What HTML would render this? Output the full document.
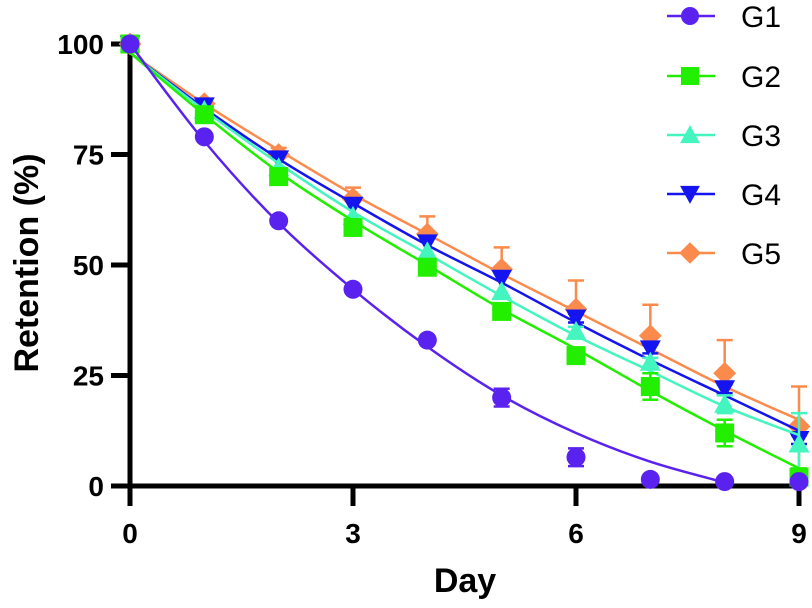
<!DOCTYPE html>
<html><head><meta charset="utf-8"><style>
body{margin:0;background:#fff}
svg{display:block;font-family:"Liberation Sans",Arial,sans-serif}
</style></head><body>
<svg id="chart" width="812" height="608" viewBox="0 0 812 608"></svg>
<script>
const days=[0,1,2,3,4,5,6,7,8,9];
const yTicks=[0,25,50,75,100];
const xTicks=[0,3,6,9];
const seriesNames=["G1","G2","G3","G4","G5"];
const g1=[100,79,60,44.5,33,20,6.5,1.5,1,1];
const g2=[100,84,70,58.5,49.5,39.5,29.5,22.5,12,2];
const g3=[100,85,72,61,53,44,35,28,18.5,9.5];
const g4=[100,86,74,63.5,55,47,38,31,22,10.5];
const g5=[100,86.5,75,65,57,49,40,34,25.5,13.5];
const g1Err=[0,0,0,0,0,2,2,0,0,0];
const g2Err=[0,0,0,0,0,0,0,3,3,2];
const g3Err=[0,0,0,0,0,0,1,1,2,7];
const g4Err=[0,0,0,0,0,0,1,1,1,1];
const g5Err=[0,0,1.5,2.5,4,5,6.5,7,7.5,9];
const g1Fit=[100,78,59.5,44.5,31.5,20.5,12,5.5,0.8,null];
const g2Fit=[98,84,71,60,50,40,31,21.5,12.5,4];
const g3Fit=[98,85,73,62,52.5,43,34,26,18,11.5];
const g4Fit=[98,85.5,74,64,54.5,46,37,28.5,20.5,12.5];
const g5Fit=[98,86.5,76,66,57,48,39.5,31,22.5,15];
const colors=["#5a22ee","#22ee00","#44f5c0","#1414ee","#fb8a4c"];
const allVals=[g1,g2,g3,g4,g5], allErr=[g1Err,g2Err,g3Err,g4Err,g5Err], allFit=[g1Fit,g2Fit,g3Fit,g4Fit,g5Fit];
const X=d=>130+d*(669/9), Y=v=>486-v*4.42;
const svg=document.getElementById('chart'), NS="http://www.w3.org/2000/svg";
function mk(tag,attrs,parent){const e=document.createElementNS(NS,tag);for(const k in attrs)e.setAttribute(k,attrs[k]);(parent||svg).appendChild(e);return e;}
let e=mk('line',{x1:130,y1:44,x2:130,y2:488,stroke:'#000','stroke-width':5});

e=mk('line',{x1:128,y1:486,x2:801,y2:486,stroke:'#000','stroke-width':5});

yTicks.forEach(t=>{
 let l=mk('line',{x1:111,y1:Y(t),x2:130,y2:Y(t),stroke:'#000','stroke-width':5});
 
 let tx=mk('text',{x:104,y:Y(t)+10,'text-anchor':'end','font-size':28,'font-weight':'bold'});tx.textContent=t;
 
});
xTicks.forEach(t=>{
 let l=mk('line',{x1:X(t),y1:486,x2:X(t),y2:506,stroke:'#000','stroke-width':5});
 
 let tx=mk('text',{x:X(t),y:543,'text-anchor':'middle','font-size':28,'font-weight':'bold'});tx.textContent=t;
 
});
e=mk('text',{x:465,y:592,'text-anchor':'middle','font-size':34,'font-weight':'bold'});e.textContent='Day';

e=mk('text',{x:0,y:0,'text-anchor':'middle','font-size':34,'font-weight':'bold',transform:'translate(38,263) rotate(-90)'});e.textContent='Retention (%)';

function marker(i,cx,cy,s,parent){
 const c=colors[i];let m;
 if(i===0)m=mk('circle',{cx,cy,r:s,fill:c},parent);
 else if(i===1)m=mk('rect',{x:cx-s,y:cy-s,width:2*s,height:2*s,fill:c},parent);
 else if(i===2)m=mk('polygon',{points:`${cx},${cy-s*1.1} ${cx-s*1.1},${cy+s*0.9} ${cx+s*1.1},${cy+s*0.9}`,fill:c},parent);
 else if(i===3)m=mk('polygon',{points:`${cx},${cy+s*1.1} ${cx-s*1.1},${cy-s*0.9} ${cx+s*1.1},${cy-s*0.9}`,fill:c},parent);
 else m=mk('polygon',{points:`${cx},${cy-s*1.2} ${cx+s*1.2},${cy} ${cx},${cy+s*1.2} ${cx-s*1.2},${cy}`,fill:c},parent);
 return m;
}
function smooth(pts){
 let d=`M${pts[0][0]},${pts[0][1]}`;
 for(let i=0;i<pts.length-1;i++){
  const p0=pts[i-1]||pts[i],p1=pts[i],p2=pts[i+1],p3=pts[i+2]||p2;
  d+=` C${p1[0]+(p2[0]-p0[0])/6},${p1[1]+(p2[1]-p0[1])/6} ${p2[0]-(p3[0]-p1[0])/6},${p2[1]-(p3[1]-p1[1])/6} ${p2[0]},${p2[1]}`;
 }
 return d;
}
for(let i=4;i>=0;i--){
 const g=mk('g',{});
 
 const pts=[];allFit[i].forEach((v,k)=>{if(v!==null)pts.push([X(days[k]),Y(v)]);});
 const p=mk('path',{d:smooth(pts),fill:'none',stroke:colors[i],'stroke-width':2.5},g);
 
 allVals[i].forEach((v,k)=>{
  const er=allErr[i][k];
  if(er>0){
   const x=X(days[k]);
   const eb=mk('path',{d:`M${x},${Y(v-er)}V${Y(v+er)}M${x-8},${Y(v+er)}H${x+8}`+(i===4?'':`M${x-8},${Y(v-er)}H${x+8}`),stroke:colors[i],'stroke-width':2.5,fill:'none'},g);
   
  }
  const m=marker(i,X(days[k]),Y(v),9.5,g);
  
 });
}
const legY=[16,76,135,194,253];
seriesNames.forEach((n,i)=>{
 const g=mk('g',{});
 
 mk('line',{x1:667,y1:legY[i],x2:715,y2:legY[i],stroke:colors[i],'stroke-width':2.5},g);
 marker(i,690,legY[i],9,g);
 const t=mk('text',{x:741,y:legY[i]+11,'font-size':30},g);t.textContent=n;
});
</script>
</body></html>
